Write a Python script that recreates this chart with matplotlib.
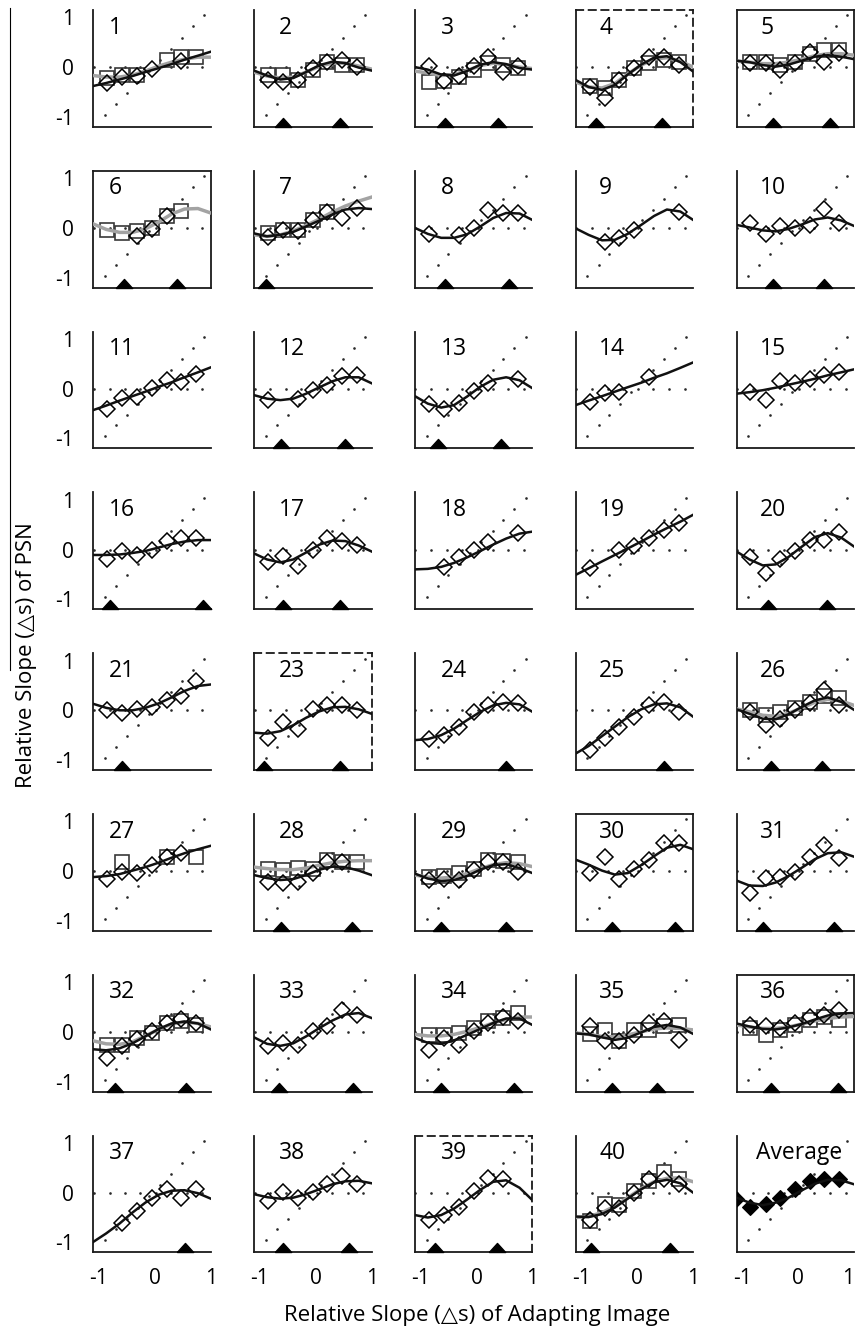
import numpy as np
import matplotlib
matplotlib.use("Agg")
import matplotlib.pyplot as plt
from matplotlib.lines import Line2D

plt.rcParams['font.family'] = ['Open Sans', 'DejaVu Sans']

n = np.nan

# x positions shared by all panels
point_x = [-1.11, -0.85, -0.58, -0.32, -0.05, 0.21, 0.47, 0.74]
curve_x = [-1.1, -0.87, -0.63, -0.4, -0.17, 0.07, 0.3, 0.53, 0.77, 1.0]

# dotted reference lines (diagonal and zero)
diag_dot_x = [-0.89, -0.69, -0.50, -0.30, -0.11, 0.09, 0.29, 0.48, 0.68, 0.88]
diag_dot_y = [-0.96, -0.74, -0.52, -0.30, -0.07, 0.15, 0.37, 0.59, 0.82, 1.04]
zero_dot_x = [-1.09, -0.81, -0.53, -0.26, 0.02, 0.29, 0.57, 0.85]
zero_dot_y = [0, 0, 0, 0, 0, 0, 0, 0]

panel_names = ['1', '2', '3', '4', '5', '6', '7', '8', '9', '10',
               '11', '12', '13', '14', '15', '16', '17', '18', '19', '20',
               '21', '23', '24', '25', '26', '27', '28', '29', '30', '31',
               '32', '33', '34', '35', '36', '37', '38', '39', '40', 'Average']

# PSN shifts, diamonds (one condition)
diamond_y = {
    '1': [n, -0.32, -0.2, -0.18, -0.04, n, 0.13, n],
    '2': [n, -0.26, -0.29, -0.25, -0.02, 0.11, 0.14, 0.01],
    '3': [n, 0.02, -0.28, -0.18, 0.02, 0.21, -0.09, 0.02],
    '4': [n, -0.41, -0.63, -0.26, -0.02, 0.2, 0.2, 0.04],
    '5': [n, 0.09, 0.09, -0.06, 0.08, 0.31, 0.11, 0.29],
    '6': [n, n, n, -0.17, -0.03, 0.24, n, n],
    '7': [n, -0.19, -0.04, -0.07, 0.16, 0.33, 0.19, 0.4],
    '8': [n, -0.12, n, -0.14, 0.0, 0.36, 0.3, 0.3],
    '9': [n, n, -0.28, -0.21, -0.04, n, n, 0.33],
    '10': [n, 0.09, -0.12, 0.03, -0.01, 0.06, 0.38, 0.09],
    '11': [n, -0.41, -0.19, -0.17, 0.01, 0.18, 0.14, 0.3],
    '12': [n, -0.23, n, -0.21, -0.02, 0.08, 0.26, 0.28],
    '13': [n, -0.3, -0.41, -0.29, -0.05, 0.12, n, 0.19],
    '14': [n, -0.26, -0.09, -0.06, n, 0.23, n, n],
    '15': [n, -0.06, -0.23, 0.16, 0.11, 0.19, 0.28, 0.34],
    '16': [n, -0.2, -0.04, -0.11, 0.0, 0.17, 0.23, 0.23],
    '17': [n, -0.26, -0.14, -0.33, -0.01, 0.23, 0.18, 0.09],
    '18': [n, n, -0.36, -0.16, -0.01, 0.16, n, 0.34],
    '19': [n, -0.38, n, 0.0, 0.07, 0.23, 0.39, 0.54],
    '20': [n, -0.16, -0.48, -0.2, -0.04, 0.2, 0.2, 0.36],
    '21': [n, 0.01, -0.05, 0.02, 0.07, 0.21, 0.29, 0.6],
    '23': [n, -0.56, -0.23, -0.38, 0.02, 0.11, 0.11, 0.01],
    '24': [n, -0.58, -0.5, -0.34, -0.03, 0.11, 0.17, 0.14],
    '25': [n, -0.8, -0.56, -0.34, -0.13, 0.11, 0.17, -0.03],
    '26': [n, -0.03, -0.3, -0.18, 0.01, 0.14, 0.41, 0.11],
    '27': [n, -0.16, -0.01, -0.04, 0.12, 0.29, 0.36, n],
    '28': [n, -0.21, -0.24, -0.21, -0.04, 0.19, 0.19, n],
    '29': [n, -0.18, -0.16, -0.18, 0.02, 0.19, 0.19, -0.01],
    '30': [n, -0.04, 0.29, -0.16, 0.04, 0.23, 0.56, 0.56],
    '31': [n, -0.45, -0.14, -0.12, -0.01, 0.29, 0.53, 0.26],
    '32': [n, -0.53, -0.28, -0.15, 0.01, 0.17, 0.26, 0.17],
    '33': [n, -0.28, -0.23, -0.26, 0.01, 0.11, 0.44, 0.34],
    '34': [n, -0.36, -0.13, -0.26, 0.01, 0.17, 0.31, 0.21],
    '35': [n, 0.11, -0.19, -0.19, -0.06, 0.17, 0.21, -0.16],
    '36': [n, 0.14, 0.11, 0.07, 0.17, 0.31, 0.34, 0.44],
    '37': [n, n, -0.6, -0.37, -0.1, 0.07, -0.1, 0.07],
    '38': [n, -0.17, 0.01, -0.1, 0.01, 0.17, 0.34, 0.17],
    '39': [n, -0.54, -0.44, -0.28, 0.03, 0.3, 0.27, n],
    '40': [n, -0.54, -0.3, -0.3, -0.01, 0.27, 0.28, 0.17],
    'Average': [-0.13, -0.28, -0.23, -0.1, 0.08, 0.23, 0.28, 0.27],
}

# PSN shifts, squares (second condition)
square_y = {
    '1': [n, -0.22, -0.16, -0.16, n, 0.14, 0.21, 0.21],
    '2': [n, -0.16, -0.16, -0.26, -0.06, 0.11, 0.04, 0.04],
    '3': [n, -0.29, -0.27, -0.2, -0.06, 0.08, 0.04, -0.02],
    '4': [n, -0.38, -0.42, -0.25, -0.02, 0.09, 0.14, 0.11],
    '5': [n, 0.11, 0.11, 0.04, 0.11, 0.26, 0.35, 0.35],
    '6': [n, -0.04, -0.11, -0.07, -0.01, 0.23, 0.35, n],
    '7': [n, -0.11, -0.04, -0.04, 0.16, 0.33, n, n],
    '26': [n, 0.01, -0.09, -0.03, 0.04, 0.17, 0.28, 0.24],
    '27': [n, n, 0.19, n, n, 0.29, n, 0.28],
    '28': [n, 0.04, 0.02, 0.06, 0.04, 0.22, 0.19, 0.19],
    '29': [n, -0.11, -0.1, -0.04, 0.04, 0.22, 0.21, 0.19],
    '32': [n, -0.26, -0.26, -0.13, -0.03, 0.17, 0.21, 0.14],
    '34': [n, -0.06, -0.06, -0.03, 0.07, 0.21, 0.28, 0.38],
    '35': [n, -0.04, 0.03, -0.19, 0.04, 0.04, 0.11, 0.14],
    '36': [n, 0.07, -0.06, 0.04, 0.14, 0.24, 0.3, 0.24],
    '40': [n, -0.57, -0.23, -0.25, 0.03, 0.23, 0.42, 0.28],
}

# model fit through the diamonds (black line)
black_fit = {
    '1': [-0.38, -0.32, -0.25, -0.18, -0.1, -0.02, 0.06, 0.15, 0.23, 0.31],
    '2': [-0.07, -0.17, -0.25, -0.22, -0.1, 0.04, 0.11, 0.08, -0.01, -0.07],
    '3': [0.0, -0.05, -0.15, -0.17, -0.08, 0.05, 0.1, 0.06, -0.02, -0.05],
    '4': [-0.26, -0.4, -0.46, -0.36, -0.15, 0.05, 0.19, 0.22, 0.1, -0.09],
    '5': [0.13, 0.1, 0.04, 0.01, 0.05, 0.13, 0.21, 0.24, 0.21, 0.16],
    '7': [-0.11, -0.17, -0.14, -0.08, 0.03, 0.15, 0.27, 0.37, 0.4, 0.38],
    '8': [0.0, -0.12, -0.2, -0.2, -0.13, 0.03, 0.2, 0.3, 0.29, 0.16],
    '9': [-0.01, -0.14, -0.25, -0.24, -0.12, 0.06, 0.24, 0.37, 0.33, 0.16],
    '10': [0.06, 0.01, -0.05, -0.07, -0.02, 0.07, 0.17, 0.21, 0.15, 0.04],
    '11': [-0.43, -0.34, -0.24, -0.15, -0.06, 0.04, 0.13, 0.23, 0.33, 0.43],
    '12': [-0.13, -0.2, -0.23, -0.2, -0.1, 0.03, 0.15, 0.23, 0.23, 0.11],
    '13': [-0.15, -0.3, -0.38, -0.33, -0.16, 0.04, 0.18, 0.23, 0.17, 0.01],
    '14': [-0.33, -0.24, -0.15, -0.06, 0.03, 0.12, 0.22, 0.31, 0.42, 0.53],
    '15': [-0.1, -0.07, -0.03, 0.02, 0.08, 0.14, 0.2, 0.27, 0.33, 0.39],
    '16': [-0.11, -0.11, -0.1, -0.07, -0.03, 0.04, 0.11, 0.16, 0.19, 0.19],
    '17': [-0.08, -0.2, -0.26, -0.2, -0.06, 0.1, 0.18, 0.17, 0.08, -0.04],
    '18': [-0.4, -0.39, -0.35, -0.27, -0.16, -0.03, 0.1, 0.22, 0.32, 0.36],
    '19': [-0.51, -0.38, -0.24, -0.11, 0.02, 0.16, 0.3, 0.43, 0.56, 0.7],
    '20': [-0.04, -0.2, -0.32, -0.3, -0.15, 0.06, 0.25, 0.33, 0.24, 0.06],
    '21': [0.13, 0.05, 0.0, 0.0, 0.05, 0.14, 0.26, 0.39, 0.49, 0.52],
    '23': [-0.45, -0.47, -0.42, -0.3, -0.15, -0.02, 0.06, 0.07, 0.02, -0.07],
    '24': [-0.6, -0.58, -0.5, -0.37, -0.2, -0.03, 0.1, 0.15, 0.12, -0.03],
    '25': [-0.87, -0.72, -0.52, -0.33, -0.14, 0.02, 0.12, 0.14, 0.06, -0.13],
    '26': [0.02, -0.07, -0.17, -0.18, -0.08, 0.07, 0.2, 0.26, 0.17, 0.01],
    '27': [-0.12, -0.1, -0.06, 0.01, 0.08, 0.17, 0.27, 0.36, 0.44, 0.51],
    '28': [-0.08, -0.14, -0.18, -0.16, -0.08, 0.03, 0.09, 0.08, 0.01, -0.08],
    '29': [-0.05, -0.15, -0.2, -0.18, -0.1, 0.03, 0.12, 0.14, 0.06, -0.04],
    '30': [0.23, 0.13, 0.01, -0.07, -0.04, 0.12, 0.3, 0.47, 0.53, 0.44],
    '31': [-0.19, -0.29, -0.3, -0.23, -0.1, 0.07, 0.24, 0.36, 0.38, 0.29],
    '32': [-0.35, -0.37, -0.33, -0.23, -0.09, 0.06, 0.17, 0.21, 0.17, 0.05],
    '33': [-0.11, -0.24, -0.28, -0.23, -0.09, 0.08, 0.23, 0.35, 0.38, 0.28],
    '34': [-0.12, -0.22, -0.24, -0.17, -0.06, 0.06, 0.18, 0.27, 0.27, 0.14],
    '35': [-0.03, -0.05, -0.11, -0.16, -0.12, -0.01, 0.1, 0.14, 0.09, -0.04],
    '36': [0.17, 0.11, 0.06, 0.05, 0.09, 0.16, 0.25, 0.33, 0.37, 0.38],
    '37': [-0.99, -0.82, -0.62, -0.4, -0.2, -0.04, 0.04, 0.05, -0.01, -0.12],
    '38': [-0.03, -0.09, -0.12, -0.1, -0.03, 0.07, 0.17, 0.23, 0.24, 0.19],
    '39': [-0.45, -0.5, -0.45, -0.32, -0.14, 0.06, 0.22, 0.25, 0.1, -0.15],
    '40': [-0.48, -0.49, -0.43, -0.3, -0.12, 0.07, 0.21, 0.26, 0.19, 0.0],
    'Average': [-0.1, -0.2, -0.25, -0.2, -0.1, 0.05, 0.18, 0.26, 0.25, 0.17],
}

# model fit through the squares (gray line)
gray_fit = {
    '1': [-0.17, -0.2, -0.2, -0.16, -0.08, 0.02, 0.1, 0.16, 0.2, 0.2],
    '2': [-0.1, -0.18, -0.22, -0.2, -0.1, 0.02, 0.08, 0.08, 0.02, -0.04],
    '3': [-0.08, -0.12, -0.17, -0.15, -0.07, 0.03, 0.08, 0.05, 0.0, -0.03],
    '4': [-0.3, -0.4, -0.42, -0.33, -0.14, 0.04, 0.16, 0.19, 0.12, 0.0],
    '5': [0.12, 0.1, 0.07, 0.07, 0.1, 0.16, 0.23, 0.27, 0.27, 0.24],
    '6': [0.08, -0.03, -0.09, -0.09, -0.02, 0.12, 0.28, 0.38, 0.39, 0.3],
    '7': [-0.14, -0.17, -0.14, -0.06, 0.05, 0.18, 0.32, 0.44, 0.54, 0.62],
    '26': [0.03, -0.03, -0.1, -0.12, -0.06, 0.05, 0.16, 0.22, 0.19, 0.1],
    '28': [0.08, 0.05, 0.03, 0.03, 0.06, 0.12, 0.17, 0.2, 0.21, 0.21],
    '29': [-0.08, -0.12, -0.14, -0.12, -0.05, 0.05, 0.13, 0.17, 0.15, 0.09],
    '32': [-0.18, -0.24, -0.25, -0.2, -0.08, 0.05, 0.16, 0.2, 0.17, 0.1],
    '34': [-0.05, -0.08, -0.08, -0.05, 0.01, 0.09, 0.18, 0.25, 0.3, 0.3],
    '35': [-0.02, -0.05, -0.09, -0.1, -0.06, 0.0, 0.06, 0.08, 0.07, 0.04],
    '36': [0.14, 0.1, 0.07, 0.07, 0.1, 0.16, 0.22, 0.27, 0.3, 0.31],
    '40': [-0.5, -0.48, -0.4, -0.27, -0.1, 0.08, 0.22, 0.29, 0.3, 0.22],
}

# channel peaks marked by triangles on the x axis
triangle_x = {
    '2': [-0.585, 0.43], '3': [-0.56, 0.385], '4': [-0.73, 0.45],
    '5': [-0.44, 0.575], '6': [-0.55, 0.4], '7': [-0.89],
    '8': [-0.56, 0.575], '10': [-0.45, 0.46], '12': [-0.62, 0.52],
    '13': [-0.68, 0.44], '16': [-0.8, 0.86], '17': [-0.585, 0.43],
    '20': [-0.54, 0.52], '21': [-0.58], '23': [-0.92, 0.44],
    '24': [0.52], '25': [0.47], '26': [-0.49, 0.43],
    '28': [-0.62, 0.65], '29': [-0.63, 0.52], '30': [-0.45, 0.68],
    '31': [-0.63, 0.65], '32': [-0.72, 0.56], '33': [-0.65, 0.67],
    '34': [-0.63, 0.68], '35': [-0.46, 0.35], '36': [-0.49, 0.72],
    '37': [0.53], '38': [-0.585, 0.59], '39': [-0.74, 0.37],
    '40': [-0.83, 0.59],
}

solid_box = ['5', '6', '30', '36']
dashed_box = ['4', '23', '39']

W, H = 857, 1334
XLIM = (-1.1, 1.0)
YLIM = (-1.2, 1.15)
tri_marker = [(-1, 0), (1, 0), (0, 1.1), (-1, 0)]
label_off = [0.13, 0.21, 0.22, 0.2, 0.2]

fig = plt.figure(figsize=(W / 100, H / 100), dpi=100)

for k, name in enumerate(panel_names):
    row, col = divmod(k, 5)
    left = 93.3 + col * 160.8
    top = 10 + row * 160.8
    ax = fig.add_axes([left / W, 1 - (top + 116.7) / H, 117.5 / W, 116.7 / H])
    ax.set_xlim(*XLIM)
    ax.set_ylim(*YLIM)

    ax.plot(diag_dot_x, diag_dot_y, ls='none', marker='o', ms=1.9,
            color='#2a2a2a', mew=0)
    ax.plot(zero_dot_x, zero_dot_y, ls='none', marker='o', ms=1.9,
            color='#2a2a2a', mew=0)

    if name in square_y:
        ax.plot(point_x, square_y[name], ls='none', marker='s', ms=10,
                mfc='none', mec='#383838', mew=1.2, zorder=3)
    if name in gray_fit:
        ax.plot(curve_x, gray_fit[name], color='#a3a3a3', lw=2.5, zorder=3)
    if name == 'Average':
        ax.plot(point_x, diamond_y[name], ls='none', marker='D', ms=7.8,
                mfc='black', mec='black', mew=0.8, zorder=4)
    else:
        ax.plot(point_x, diamond_y[name], ls='none', marker='D', ms=7.8,
                mfc='none', mec='black', mew=1.1, zorder=4)
    if name in black_fit:
        ax.plot(curve_x, black_fit[name], color='#111111', lw=1.8, zorder=5)

    if name in triangle_x:
        tx = triangle_x[name]
        ax.plot(tx, [YLIM[0]] * len(tx), ls='none', marker=tri_marker, ms=13,
                color='black', clip_on=False, zorder=6)

    for side in ['left', 'bottom', 'top', 'right']:
        ax.spines[side].set_linewidth(1.3)
        ax.spines[side].set_color('#1a1a1a')
    if name in dashed_box:
        for side in ['top', 'right']:
            ax.spines[side].set_linestyle((0, (4, 3)))
    elif name not in solid_box:
        ax.spines['top'].set_visible(False)
        ax.spines['right'].set_visible(False)

    ax.set_xticks([-1, 0, 1])
    ax.set_yticks([-1, 0, 1])
    ax.tick_params(length=0, labelsize=15)
    ax.tick_params(axis='y', pad=14)
    ax.tick_params(axis='x', pad=11)
    if col == 0:
        ax.set_yticklabels(['-1', '0', '1'])
    else:
        ax.set_yticklabels([])
    if row == 7:
        ax.set_xticklabels(['-1', '0', '1'])
        if col == 4:
            # keep the last "1" inside the figure edge
            ax.get_xticklabels()[-1].set_horizontalalignment('right')
    else:
        ax.set_xticklabels([])

    xoff = 0.17 if name == 'Average' else label_off[col]
    ax.text(xoff, 0.85, name, transform=ax.transAxes, fontsize=16.5,
            ha='left', va='center')

fig.add_artist(Line2D([10 / W, 10 / W], [1 - 8 / H, 1 - 670 / H],
                      color='black', lw=0.8))
fig.text(27 / W, 1 - 655 / H, 'Relative Slope (\u25b3s) of PSN', rotation=90,
         ha='center', va='center', fontsize=16)
fig.text(477 / W, 1 - 1316 / H, 'Relative Slope (\u25b3s) of Adapting Image',
         ha='center', va='center', fontsize=16)

fig.savefig('out.png', dpi=100)
